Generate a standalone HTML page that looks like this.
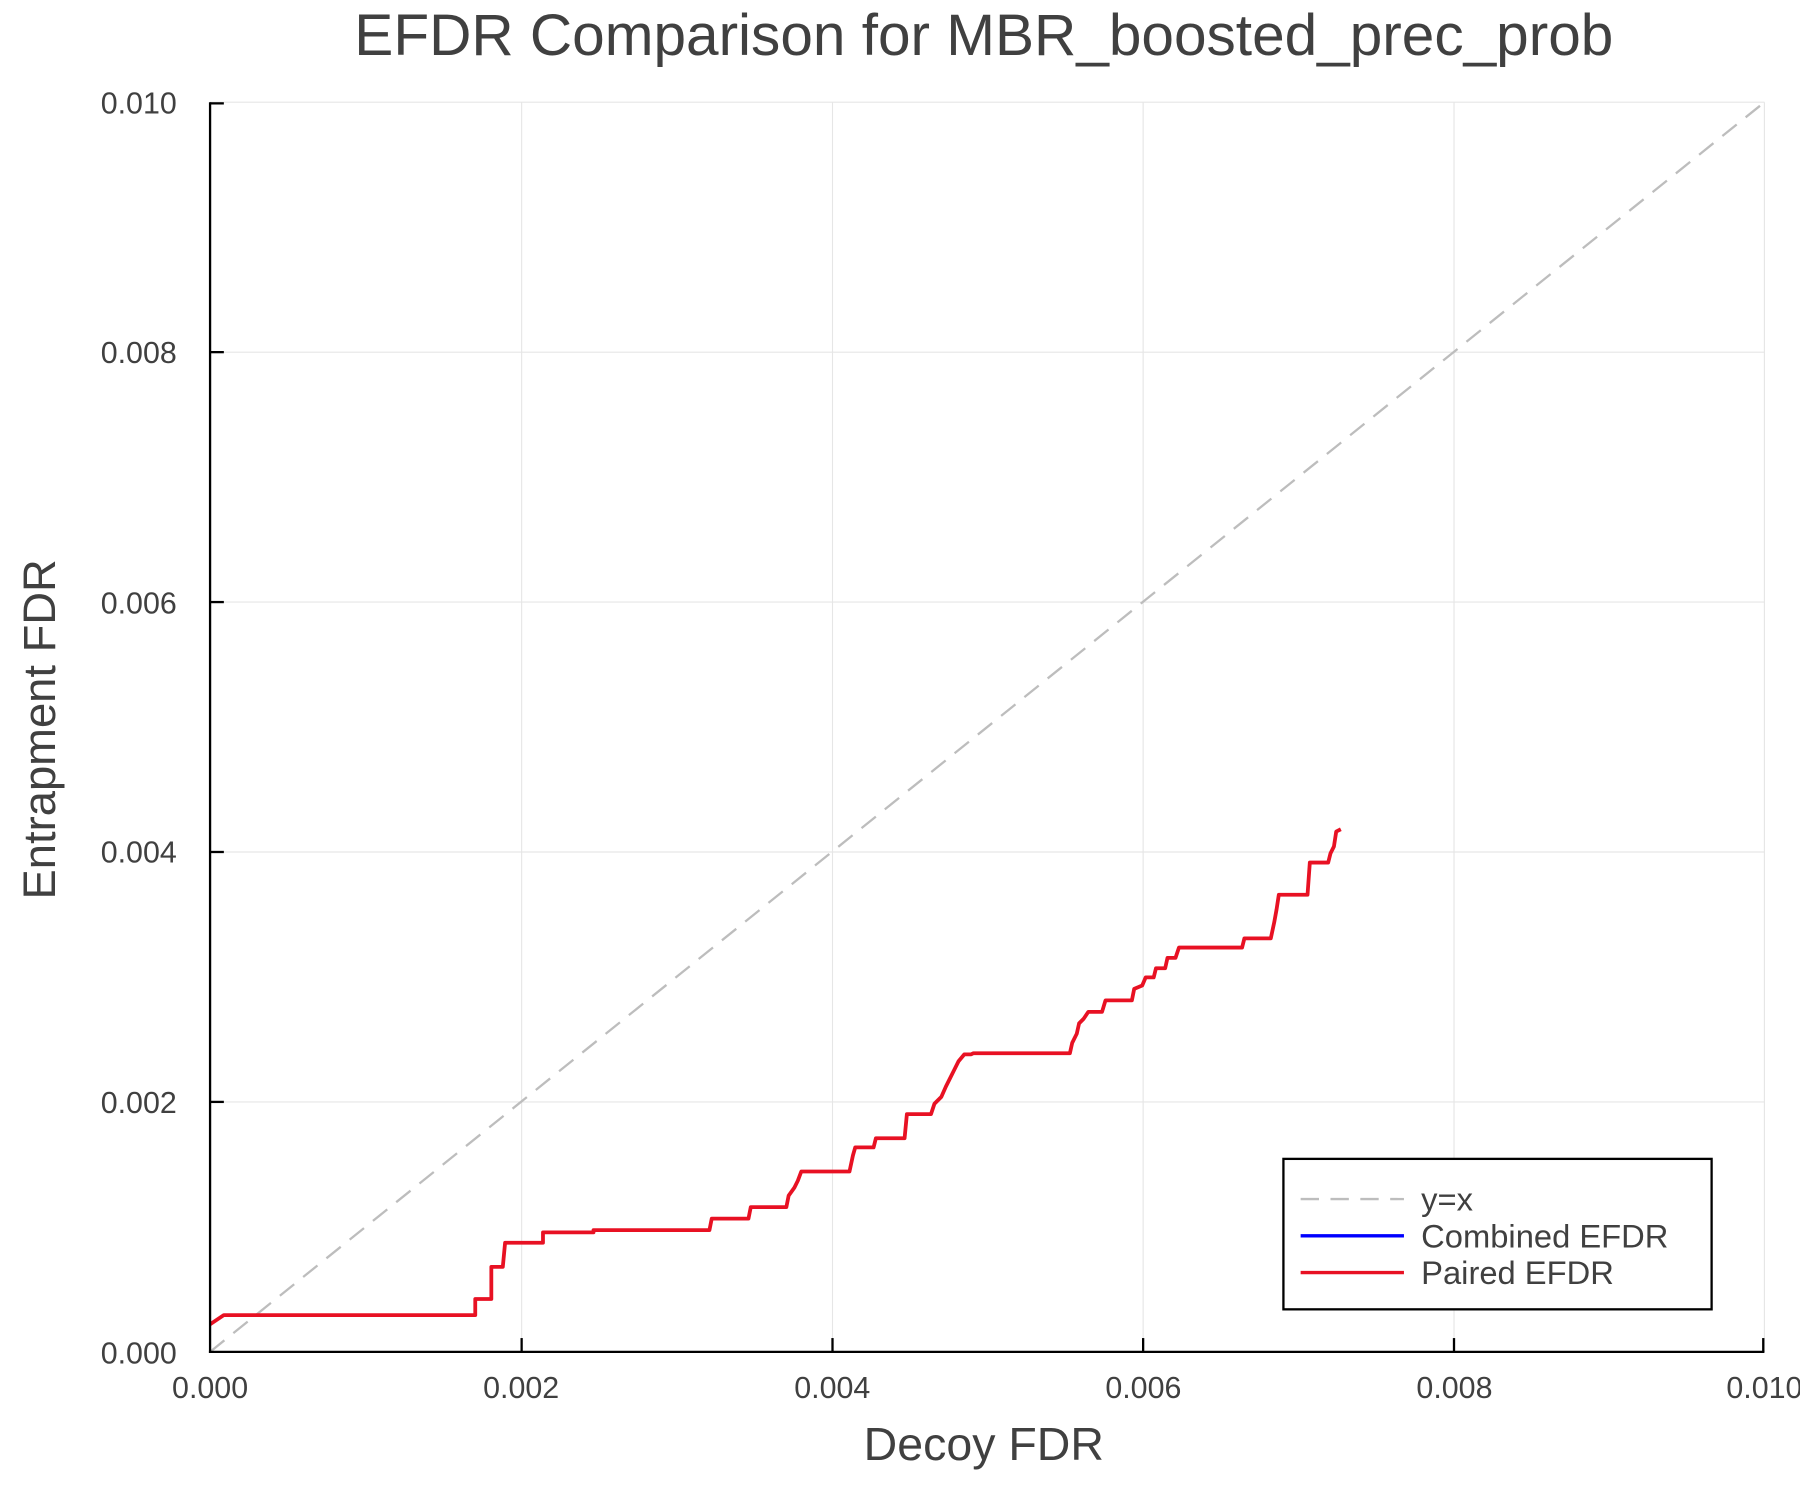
<!DOCTYPE html>
<html><head><meta charset="utf-8"><style>
html,body{margin:0;padding:0;background:#fff;}
svg{display:block;}
text{font-family:"Liberation Sans",Arial,sans-serif;fill:#404040;}
</style></head><body>
<svg width="1800" height="1500" viewBox="0 0 1568 1306" preserveAspectRatio="none" xmlns="http://www.w3.org/2000/svg">
<rect width="1568" height="1306" fill="#fff"/>
<g stroke="#e6e6e6" stroke-width="1">
<line x1="454.4" y1="89" x2="454.4" y2="1177"/>
<line x1="725.2" y1="89" x2="725.2" y2="1177"/>
<line x1="995.8" y1="89" x2="995.8" y2="1177"/>
<line x1="1266.6" y1="89" x2="1266.6" y2="1177"/>
<line x1="1537" y1="89" x2="1537" y2="1177"/>
<line x1="183" y1="89" x2="1537" y2="89"/>
<line x1="183" y1="306.6" x2="1537" y2="306.6"/>
<line x1="183" y1="524.2" x2="1537" y2="524.2"/>
<line x1="183" y1="741.8" x2="1537" y2="741.8"/>
<line x1="183" y1="959.4" x2="1537" y2="959.4"/>
</g>
<line x1="183" y1="1177" x2="1537" y2="89" stroke="#bdbdbd" stroke-width="2" stroke-dasharray="16 10"/>
<polyline fill="none" stroke="#e81123" stroke-width="3.3" stroke-linejoin="round" points="183,1153 195,1145 414,1145 414,1131 428,1131 428,1103 438,1103 440,1082 473,1082 473,1073 517,1073 517,1071 618,1071 620,1061 652,1061 654,1051 685,1051 687,1041 692,1034 695,1028 698,1020 740,1020 743,1006 745,999 761,999 763,991 788,991 790,970 811,970 814,961 820,955 824,946 827,940 831,932 835,924 840,918 846,918 848,917 932,917 934,908 938,900 940,891 944,887 948,881 960,881 963,871 986,871 988,861 995,858 998,851 1005,851 1007,843 1015,843 1017,834 1024,834 1027,825 1082,825 1084,817 1107,817 1110,803 1112,792 1114,779 1139,779 1141,751 1157,751 1159,743 1162,737 1164,724 1168,722"/>
<g stroke="#000" stroke-width="2">
<line x1="183" y1="89" x2="183" y2="1178"/>
<line x1="182" y1="1177" x2="1537" y2="1177"/>
<line x1="454.4" y1="1177" x2="454.4" y2="1165"/>
<line x1="725.2" y1="1177" x2="725.2" y2="1165"/>
<line x1="995.8" y1="1177" x2="995.8" y2="1165"/>
<line x1="1266.6" y1="1177" x2="1266.6" y2="1165"/>
<line x1="1536" y1="1177" x2="1536" y2="1165"/>
<line x1="183" y1="90" x2="195" y2="90"/>
<line x1="183" y1="306.6" x2="195" y2="306.6"/>
<line x1="183" y1="524.2" x2="195" y2="524.2"/>
<line x1="183" y1="741.8" x2="195" y2="741.8"/>
<line x1="183" y1="959.4" x2="195" y2="959.4"/>
</g>
<g font-size="26.5" text-anchor="end">
<text x="154" y="99">0.010</text>
<text x="154" y="316">0.008</text>
<text x="154" y="534">0.006</text>
<text x="154" y="751">0.004</text>
<text x="154" y="969">0.002</text>
<text x="154" y="1187">0.000</text>
</g>
<g font-size="26.5" text-anchor="middle">
<text x="183" y="1217">0.000</text>
<text x="454" y="1217">0.002</text>
<text x="725" y="1217">0.004</text>
<text x="996" y="1217">0.006</text>
<text x="1267" y="1217">0.008</text>
<text x="1537" y="1217">0.010</text>
</g>
<text x="857" y="1271" font-size="40.5" text-anchor="middle">Decoy FDR</text>
<text transform="translate(48,635) rotate(-90)" font-size="39.5" text-anchor="middle">Entrapment FDR</text>
<text x="857" y="48" font-size="51" text-anchor="middle">EFDR Comparison for MBR_boosted_prec_prob</text>
<rect x="1118" y="1009" width="373" height="131" fill="#fff" stroke="#000" stroke-width="2"/>
<line x1="1133" y1="1044" x2="1223" y2="1044" stroke="#bdbdbd" stroke-width="2" stroke-dasharray="16 10"/>
<line x1="1133" y1="1076" x2="1223" y2="1076" stroke="#0000ff" stroke-width="3"/>
<line x1="1133" y1="1108" x2="1223" y2="1108" stroke="#e81123" stroke-width="3"/>
<g font-size="28.5">
<text x="1238" y="1054">y=x</text>
<text x="1238" y="1086">Combined EFDR</text>
<text x="1238" y="1118">Paired EFDR</text>
</g>
</svg>
</body></html>
